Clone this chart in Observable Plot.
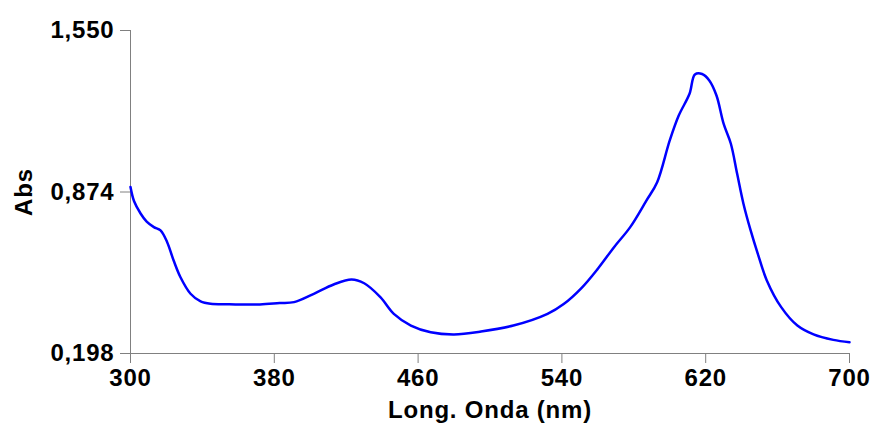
<!DOCTYPE html>
<html>
<head>
<meta charset="utf-8">
<script src="https://cdn.jsdelivr.net/npm/d3@7"></script>
<script src="https://cdn.jsdelivr.net/npm/@observablehq/plot@0.6"></script>
<style>
  html, body { margin: 0; padding: 0; background: #fff; }
  #chart svg [aria-label="x-axis tick"], #chart svg [aria-label="y-axis tick"] { stroke: #808080; }
  #chart svg text { letter-spacing: 0.8px; }
</style>
</head>
<body>
<div id="chart"></div>
<script>
const wavelength = [300, 302, 305.6, 309, 313, 316.7, 320.4, 324, 327.8, 333.4, 339, 344.5, 355, 372, 383, 391, 402, 413, 423, 430, 439, 446.5, 456, 467, 480, 495, 513, 532, 541, 551, 560, 569, 578, 587, 593, 600, 605, 611, 614, 618, 622, 626, 630, 634, 637.5, 641, 645, 649, 654, 662, 671, 680, 691, 700];
const absorbance = [0.895, 0.835, 0.784, 0.750, 0.727, 0.713, 0.664, 0.587, 0.517, 0.448, 0.416, 0.406, 0.404, 0.403, 0.409, 0.413, 0.448, 0.487, 0.508, 0.492, 0.434, 0.364, 0.315, 0.287, 0.278, 0.290, 0.315, 0.364, 0.405, 0.473, 0.553, 0.643, 0.727, 0.838, 0.915, 1.090, 1.194, 1.285, 1.366, 1.368, 1.341, 1.278, 1.159, 1.076, 0.950, 0.825, 0.713, 0.615, 0.504, 0.392, 0.315, 0.278, 0.255, 0.245];
const xTicks = [300, 380, 460, 540, 620, 700];
const yTicks = [0.198, 0.874, 1.550];

const data = wavelength.map((w, i) => ({w, a: absorbance[i]}));
const fmt = v => v.toFixed(3).replace(".", ",");

const chart = Plot.plot({
  width: 873,
  height: 426,
  marginLeft: 130,
  marginRight: 24,
  marginTop: 30,
  marginBottom: 73,
  style: {fontFamily: "'Liberation Sans', Arial, sans-serif", fontSize: "24px", fontWeight: "bold", color: "#000", background: "#fff"},
  x: {domain: [300, 700]},
  y: {domain: [0.198, 1.550]},
  marks: [
    Plot.axisX({ticks: xTicks, tickSize: 10, tickPadding: 5, tickFormat: d => String(d), fontSize: 24, label: "Long. Onda (nm)", labelAnchor: "center", labelArrow: "none", labelOffset: 64}),
    Plot.axisY({ticks: yTicks, tickSize: 10, tickPadding: 6, tickFormat: fmt, fontSize: 24, label: "Abs", labelAnchor: "center", labelArrow: "none", labelOffset: 116}),
    Plot.ruleX([300], {stroke: "#808080", strokeWidth: 1}),
    Plot.ruleY([0.198], {stroke: "#808080", strokeWidth: 1}),
    Plot.line(data, {x: "w", y: "a", stroke: "#0000ff", strokeWidth: 2.5, curve: "catmull-rom"})
  ]
});
document.getElementById("chart").appendChild(chart);
</script>
</body>
</html>
